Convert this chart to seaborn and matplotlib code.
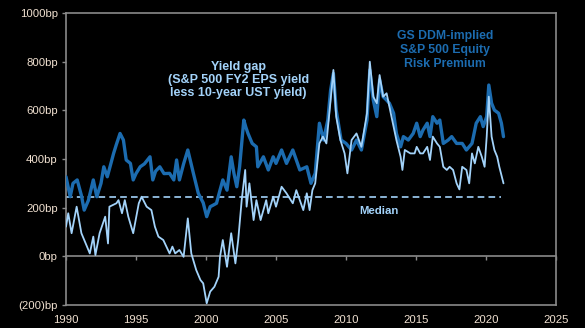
import numpy as np
import pandas as pd
import matplotlib
matplotlib.use("Agg")
import matplotlib.pyplot as plt
import seaborn as sns

# ---- data ----
erp_years = [1990.0, 1990.3, 1990.5, 1990.8, 1991.1, 1991.3, 1991.6, 1991.95, 1992.2, 1992.5,
             1992.7, 1992.95, 1993.2, 1993.4, 1993.6, 1993.86, 1994.1, 1994.3, 1994.6, 1994.8,
             1995.0, 1995.3, 1995.6, 1996.0, 1996.2, 1996.4, 1996.7, 1997.0, 1997.4, 1997.7,
             1997.9, 1998.1, 1998.4, 1998.7, 1999.1, 1999.45, 1999.8, 2000.05, 2000.3, 2000.5,
             2000.75, 2001.0, 2001.2, 2001.5, 2001.8, 2002.0, 2002.2, 2002.4, 2002.7, 2002.85,
             2003.0, 2003.3, 2003.6, 2003.7, 2004.1, 2004.45, 2004.8, 2005.0, 2005.4, 2005.75,
             2006.2, 2006.7, 2007.2, 2007.5, 2007.8, 2008.1, 2008.4, 2008.7, 2008.9, 2009.1,
             2009.3, 2009.65, 2010.0, 2010.4, 2010.75, 2011.1, 2011.5, 2011.7, 2011.95, 2012.2,
             2012.4, 2012.65, 2012.9, 2013.1, 2013.4, 2013.6, 2013.9, 2014.1, 2014.45, 2014.8,
             2015.05, 2015.3, 2015.5, 2015.8, 2016.0, 2016.2, 2016.5, 2016.7, 2016.95, 2017.3,
             2017.55, 2017.9, 2018.3, 2018.6, 2019.0, 2019.3, 2019.6, 2019.8, 2020.05, 2020.2,
             2020.4, 2020.6, 2020.9, 2021.1, 2021.25]
erp_values = [327, 245, 300, 314, 250, 190, 230, 314, 245, 300,
              368, 327, 380, 423, 460, 505, 478, 396, 382, 314,
              340, 368, 380, 409, 314, 350, 368, 340, 341, 314,
              396, 314, 380, 437, 341, 259, 220, 163, 204, 210,
              218, 272, 314, 272, 409, 340, 286, 368, 560, 530,
              505, 464, 450, 368, 409, 355, 409, 382, 437, 382,
              437, 355, 368, 300, 341, 547, 478, 560, 683, 752,
              601, 478, 464, 437, 478, 437, 560, 766, 642, 574,
              725, 656, 642, 629, 588, 505, 450, 492, 478, 505,
              547, 492, 519, 547, 492, 574, 547, 560, 464, 478,
              492, 464, 464, 437, 464, 547, 574, 533, 574, 704,
              629, 601, 588, 547, 492]

gap_years = [1990.0, 1990.16, 1990.4, 1990.76, 1991.1, 1991.5, 1991.7, 1991.95, 1992.1, 1992.4,
             1992.8, 1993.0, 1993.1, 1993.6, 1993.75, 1994.0, 1994.2, 1994.45, 1994.8, 1995.2,
             1995.4, 1995.76, 1996.1, 1996.35, 1996.6, 1996.95, 1997.4, 1997.6, 1997.8, 1998.1,
             1998.4, 1998.7, 1998.95, 1999.3, 1999.6, 1999.8, 2000.05, 2000.3, 2000.6, 2000.9,
             2001.0, 2001.2, 2001.5, 2001.8, 2002.1, 2002.3, 2002.55, 2002.8, 2002.9, 2003.1,
             2003.4, 2003.6, 2003.9, 2004.3, 2004.45, 2004.8, 2005.0, 2005.4, 2005.75, 2006.2,
             2006.45, 2006.95, 2007.2, 2007.4, 2007.6, 2007.8, 2008.1, 2008.35, 2008.6, 2008.9,
             2009.1, 2009.3, 2009.6, 2009.9, 2010.1, 2010.4, 2010.75, 2011.1, 2011.5, 2011.7,
             2011.95, 2012.2, 2012.4, 2012.65, 2012.9, 2013.1, 2013.3, 2013.6, 2013.9, 2014.03,
             2014.2, 2014.6, 2014.9, 2015.05, 2015.3, 2015.5, 2015.8, 2016.0, 2016.2, 2016.5,
             2016.7, 2016.95, 2017.2, 2017.4, 2017.65, 2017.9, 2018.1, 2018.3, 2018.6, 2018.8,
             2019.0, 2019.2, 2019.45, 2019.7, 2019.9, 2020.05, 2020.2, 2020.4, 2020.6, 2020.8,
             2020.95, 2021.25]
gap_values = [122, 177, 95, 204, 95, 40, 12, 81, 5, 95,
              163, 53, 204, 218, 231, 177, 231, 163, 95, 218,
              245, 204, 190, 122, 81, 67, 12, 40, 12, 26,
              -2, 156, 12, -56, -97, -111, -193, -145, -125, -84,
              -2, 67, -43, 95, -29, 67, 231, 355, 204, 300,
              149, 231, 149, 231, 177, 245, 204, 286, 259, 218,
              272, 190, 259, 190, 272, 300, 464, 492, 464, 642,
              766, 574, 478, 423, 341, 478, 505, 450, 588, 800,
              656, 629, 745, 656, 670, 615, 560, 478, 409, 355,
              437, 423, 423, 450, 423, 423, 450, 396, 492, 464,
              450, 368, 355, 368, 355, 300, 275, 368, 355, 300,
              423, 382, 450, 409, 368, 492, 656, 492, 437, 409,
              368, 300]

median_years = [1990.0, 2021.1]
median_values = [242, 242]

y_ticks = [-200, 0, 200, 400, 600, 800, 1000]
y_tick_labels = ["(200)bp", "0bp", "200bp", "400bp", "600bp", "800bp", "1000bp"]
x_ticks = [1990, 1995, 2000, 2005, 2010, 2015, 2020, 2025]

# ---- style ----
sns.set_style("dark")
plt.rcParams["font.family"] = ["Liberation Sans", "DejaVu Sans"]

DARK = "#1c6cb0"
LIGHT = "#a3d3fa"
GRID = "#8a8a8a"
TICKC = "#f0e0d0"

fig = plt.figure(figsize=(5.85, 3.28), dpi=100, facecolor="black")
ax = fig.add_axes([66 / 585, 1 - 305 / 328, (556 - 66) / 585, (305 - 13) / 328])
ax.set_facecolor("black")

erp_df = pd.DataFrame({"year": erp_years, "bp": erp_values})
gap_df = pd.DataFrame({"year": gap_years, "bp": gap_values})
med_df = pd.DataFrame({"year": median_years, "bp": median_values})

sns.lineplot(data=erp_df, x="year", y="bp", ax=ax, color=DARK, linewidth=2.4, zorder=3)
sns.lineplot(data=gap_df, x="year", y="bp", ax=ax, color=LIGHT, linewidth=1.3, zorder=4)
sns.lineplot(data=med_df, x="year", y="bp", ax=ax, color=LIGHT, linewidth=1.2,
             linestyle=(0, (4, 2.5)), zorder=2)

ax.set_xlim(1990, 2025)
ax.set_ylim(-200, 1000)
ax.set_xlabel("")
ax.set_ylabel("")
ax.grid(False)

ax.set_yticks(y_ticks)
ax.set_yticklabels(y_tick_labels)
ax.set_xticks(x_ticks)
ax.set_xticklabels([str(t) for t in x_ticks])
ax.tick_params(axis="y", colors=GRID, labelcolor=TICKC, labelsize=8.2,
               direction="out", length=3, width=1, left=True, pad=3)
ax.tick_params(axis="x", colors=GRID, labelcolor=TICKC, labelsize=8.2,
               length=0, pad=7)

for s in ax.spines.values():
    s.set_color(GRID)
    s.set_linewidth(1.2)
    s.set_visible(True)

# zero axis with its tick marks
zero_ax = ax.secondary_xaxis(200 / 1200)
zero_ax.set_xticks(x_ticks)
zero_ax.set_xticklabels([])
zero_ax.tick_params(axis="x", direction="out", length=3, width=1, colors=GRID)
zero_ax.spines["bottom"].set_color(GRID)
zero_ax.spines["bottom"].set_linewidth(1.2)

ax.text(2002.3, 725, "Yield gap\n(S&P 500 FY2 EPS yield\nless 10-year UST yield)",
        color=LIGHT, fontsize=9.0, fontweight="bold", ha="center", va="center",
        linespacing=1.15)
ax.text(2017.07, 848, "GS DDM-implied\nS&P 500 Equity\nRisk Premium",
        color=DARK, fontsize=8.8, fontweight="bold", ha="center", va="center",
        linespacing=1.2)
ax.text(2012.36, 186, "Median", color=LIGHT, fontsize=8.2, fontweight="bold",
        ha="center", va="center")

fig.savefig("out.png", dpi=100, facecolor="black")
